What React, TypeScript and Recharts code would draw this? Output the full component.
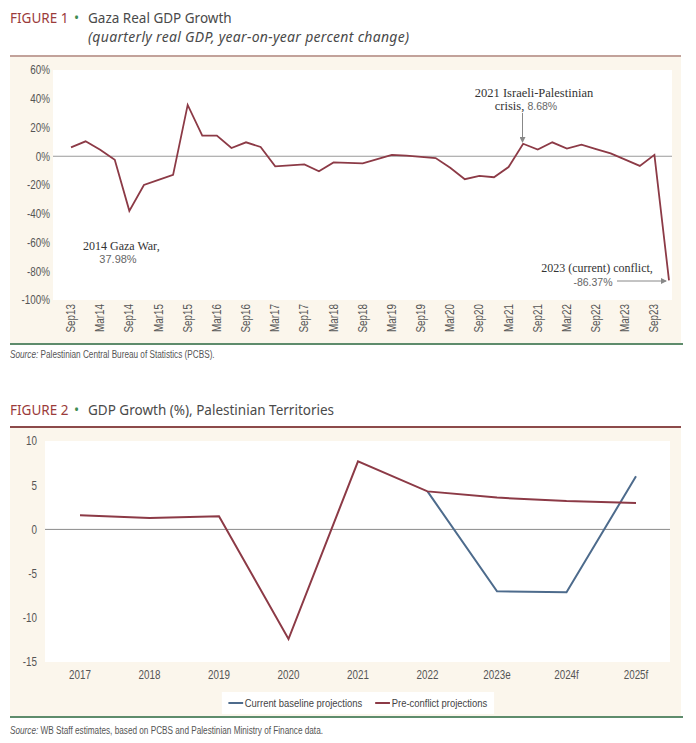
import React from "react";
import {
	CartesianGrid,
	Legend,
	Line,
	LineChart,
	ReferenceLine,
	XAxis,
	YAxis,
} from "recharts";

// Figure 1: Gaza quarterly real GDP, y/y % change
const quarters = [
	"Sep13", "Dec13", "Mar14", "Jun14", "Sep14", "Dec14", "Mar15", "Jun15",
	"Sep15", "Dec15", "Mar16", "Jun16", "Sep16", "Dec16", "Mar17", "Jun17",
	"Sep17", "Dec17", "Mar18", "Jun18", "Sep18", "Dec18", "Mar19", "Jun19",
	"Sep19", "Dec19", "Mar20", "Jun20", "Sep20", "Dec20", "Mar21", "Jun21",
	"Sep21", "Dec21", "Mar22", "Jun22", "Sep22", "Dec22", "Mar23", "Jun23",
	"Sep23", "Dec23",
];
const gazaGrowth = [
	6.2, 10.4, 4.6, -2.5, -37.98, -20.0, -16.5, -13.0,
	35.7, 14.4, 14.4, 5.7, 9.7, 6.5, -7.0, -6.3,
	-5.7, -10.4, -4.3, -4.6, -5.0, -2.0, 1.0, 0.4,
	-0.4, -1.3, -8.0, -16.0, -13.7, -14.6, -7.5, 8.68,
	4.6, 9.7, 5.3, 8.1, 5.0, 2.0, -2.3, -6.7,
	1.0, -86.37,
];
const fig1Ticks = [60, 40, 20, 0, -20, -40, -60, -80, -100];

// Figure 2: GDP growth, Palestinian Territories
const years = ["2017", "2018", "2019", "2020", "2021", "2022", "2023e", "2024f", "2025f"];
const preConflict = [1.6, 1.3, 1.5, -12.4, 7.7, 4.3, 3.6, 3.2, 3.0];
const currentBaseline = [null, null, null, null, null, 4.3, -7.0, -7.1, 6.0];
const fig2Ticks = [10, 5, 0, -5, -10, -15];

const fig1Data = quarters.map((q, i) => ({ q, v: gazaGrowth[i] }));
const fig2Data = years.map((y, i) => ({
	y,
	pre: preConflict[i],
	cur: currentBaseline[i],
}));

const RED = "#8c3a46";
const BLUE = "#4d6b8c";
const CREAM = "#fbf6ec";
// no narrow face installed: squeeze Liberation Sans like Arial Narrow
const SANS = '"Liberation Sans", Arial, sans-serif';
const SQUEEZE = 0.82;
const TITLE_FONT = '"Noto Sans", "Open Sans", sans-serif';
const SERIF = '"Liberation Serif", "Times New Roman", serif';

const RotatedTick = (props: any) => {
	const { x, y, payload } = props;
	return (
		<g transform={`translate(${x},${y})`}>
			<text
				transform={`rotate(-90) scale(${SQUEEZE},1)`}
				x={-4 / SQUEEZE}
				y={4}
				textAnchor="end"
				fill="#555"
				fontSize={12}
				fontFamily={SANS}
			>
				{payload.value}
			</text>
		</g>
	);
};

const ValueTick = (props: any) => {
	const { x, y, payload, suffix } = props;
	return (
		<g transform={`translate(${x},${y}) scale(${SQUEEZE},1)`}>
			<text x={0} y={0} dy="0.36em" textAnchor="end" fill="#555" fontSize={12} fontFamily={SANS}>
				{payload.value}
				{suffix}
			</text>
		</g>
	);
};

const YearTick = (props: any) => {
	const { x, y, payload } = props;
	return (
		<g transform={`translate(${x},${y + 17}) scale(${SQUEEZE},1)`}>
			<text x={0} y={0} textAnchor="middle" fill="#555" fontSize={12} fontFamily={SANS}>
				{payload.value}
			</text>
		</g>
	);
};

const legendItems = [
	{ label: "Current baseline projections", color: BLUE },
	{ label: "Pre-conflict projections", color: RED },
];

const renderLegend = () => (
	<div style={{ display: "flex", justifyContent: "center" }}>
		<div
			style={{
				display: "flex",
				alignItems: "center",
				gap: 16,
				height: 22,
				padding: "0 8px",
				background: "#fff",
				fontFamily: SANS,
				fontSize: 11.5,
				color: "#444",
				transform: `scaleX(${SQUEEZE})`,
				transformOrigin: "center",
			}}
		>
			{legendItems.map((it) => (
				<span key={it.label} style={{ display: "flex", alignItems: "center" }}>
					<span
						style={{
							display: "inline-block",
							width: 18,
							height: 2,
							background: it.color,
							marginRight: 2,
						}}
					/>
					{it.label}
				</span>
			))}
		</div>
	</div>
);

const Title = ({ n, text, sub, top }: { n: number; text: string; sub?: string; top: number }) => (
	<div
		style={{
			position: "absolute",
			left: 10,
			top,
			fontFamily: TITLE_FONT,
			fontSize: 13.5,
			lineHeight: "17px",
			color: "#4a4a4a",
			whiteSpace: "nowrap",
		}}
	>
		<div>
			<span style={{ color: "#9b3b3b", display: "inline-block", width: 64 }}>FIGURE {n}</span>
			<span style={{ color: "#3d8c52", display: "inline-block", width: 14 }}>•</span>
			{text}
		</div>
		{sub && (
			<div style={{ paddingLeft: 78, fontStyle: "italic", fontSize: 14, letterSpacing: 0.3, marginTop: 1 }}>
				{sub}
			</div>
		)}
	</div>
);

const Source = ({ top, text }: { top: number; text: string }) => (
	<div
		style={{
			position: "absolute",
			left: 10,
			top,
			fontFamily: SANS,
			fontSize: 10,
			color: "#555",
			whiteSpace: "nowrap",
			transform: `scaleX(${SQUEEZE})`,
			transformOrigin: "left",
		}}
	>
		<i>Source:</i> {text}
	</div>
);

export default function App() {
	return (
		<div
			style={{
				position: "absolute",
				left: 0,
				top: 0,
				width: 696,
				height: 743,
				background: "#fff",
				overflow: "hidden",
			}}
		>
			<Title n={1} text="Gaza Real GDP Growth" sub="(quarterly real GDP, year-on-year percent change)" top={10} />
			<div style={{ position: "absolute", left: 10, top: 55, width: 671, height: 2, background: "#c2a29a" }} />
			<div style={{ position: "absolute", left: 10, top: 57, width: 671, height: 286, background: CREAM }} />
			<div style={{ position: "absolute", left: 10, top: 343, width: 673, height: 1.5, background: "#5e8c6c" }} />

			<div style={{ position: "absolute", left: 0, top: 57 }}>
				<LineChart width={696} height={286} data={fig1Data} margin={{ top: 13, right: 24, bottom: 0, left: 8 }}>
					<CartesianGrid horizontal={false} vertical={false} fill="#fff" />
					<XAxis
						dataKey="q"
						interval={1}
						height={43}
						tickLine={false}
						axisLine={false}
						tickSize={0}
						tickMargin={0}
						padding={{ left: 18, right: 3 }}
						tick={<RotatedTick />}
					/>
					<YAxis
						width={45}
						domain={[-100, 60]}
						ticks={fig1Ticks}
						tickLine={false}
						axisLine={false}
						tickSize={0}
						tickMargin={3}
						tick={<ValueTick suffix="%" />}
					/>
					<ReferenceLine y={0} stroke="#9a9a9a" strokeWidth={1} />
					<Line
						type="linear"
						dataKey="v"
						stroke={RED}
						strokeWidth={1.8}
						dot={false}
						isAnimationActive={false}
					/>
				</LineChart>
			</div>

			<svg
				width={696}
				height={743}
				style={{ position: "absolute", left: 0, top: 0, pointerEvents: "none" }}
			>
				<defs>
					<marker id="ah" markerWidth="6" markerHeight="6" refX="5" refY="3" orient="auto">
						<path d="M0,0 L6,3 L0,6 z" fill="#888" />
					</marker>
				</defs>
				<text x={83} y={250} fontFamily={SERIF} fontSize={12} fill="#333">
					2014 Gaza War,
				</text>
				<text x={118} y={263} textAnchor="middle" fontFamily={SANS} fontSize={11} fill="#666">
					37.98%
				</text>
				<text x={534} y={97} textAnchor="middle" fontFamily={SERIF} fontSize={12.5} fill="#333">
					2021 Israeli-Palestinian
				</text>
				<text x={526} y={110} textAnchor="middle" fontSize={12.5} fill="#333">
					<tspan fontFamily={SERIF}>crisis, </tspan>
					<tspan fontFamily={SANS} fontSize={10.5} fill="#666">8.68%</tspan>
				</text>
				<line x1={522.5} y1={113} x2={522.5} y2={142} stroke="#888" strokeWidth={1} markerEnd="url(#ah)" />
				<text x={597} y={272} textAnchor="middle" fontFamily={SERIF} fontSize={12} fill="#333">
					2023 (current) conflict,
				</text>
				<text x={593} y={286} textAnchor="middle" fontFamily={SANS} fontSize={10.5} fill="#666">
					-86.37%
				</text>
				<line x1={617} y1={281} x2={666} y2={281} stroke="#888" strokeWidth={1} markerEnd="url(#ah)" />
			</svg>

			<Source top={349} text="Palestinian Central Bureau of Statistics (PCBS)." />

			<Title n={2} text="GDP Growth (%), Palestinian Territories" top={402} />
			<div style={{ position: "absolute", left: 10, top: 426, width: 671, height: 2, background: "#8c4a4a" }} />
			<div style={{ position: "absolute", left: 10, top: 428, width: 671, height: 288, background: CREAM }} />
			<div style={{ position: "absolute", left: 10, top: 716, width: 673, height: 1.5, background: "#5e8c6c" }} />

			<div style={{ position: "absolute", left: 0, top: 428 }}>
				<LineChart width={696} height={288} data={fig2Data} margin={{ top: 13, right: 26, bottom: 2, left: 8 }}>
					<CartesianGrid horizontal={false} vertical={false} fill="#fff" />
					<XAxis
						dataKey="y"
						interval={0}
						height={30}
						tickLine={false}
						axisLine={false}
						tickSize={0}
						tickMargin={0}
						padding={{ left: 35, right: 34 }}
						tick={<YearTick />}
					/>
					<YAxis
						width={37}
						domain={[-15, 10]}
						ticks={fig2Ticks}
						tickLine={false}
						axisLine={false}
						tickSize={0}
						tickMargin={8}
						tick={<ValueTick suffix="" />}
					/>
					<ReferenceLine y={0} stroke="#8a8a8a" strokeWidth={1} />
					<Legend
						verticalAlign="bottom"
						align="center"
						content={renderLegend}
						wrapperStyle={{ left: 45, width: 625 }}
					/>
					<Line
						type="linear"
						dataKey="cur"
						name="Current baseline projections"
						stroke={BLUE}
						strokeWidth={2}
						dot={false}
						connectNulls={false}
						isAnimationActive={false}
					/>
					<Line
						type="linear"
						dataKey="pre"
						name="Pre-conflict projections"
						stroke={RED}
						strokeWidth={2}
						dot={false}
						isAnimationActive={false}
					/>
				</LineChart>
			</div>

			<Source top={725} text="WB Staff estimates, based on PCBS and Palestinian Ministry of Finance data." />
		</div>
	);
}
